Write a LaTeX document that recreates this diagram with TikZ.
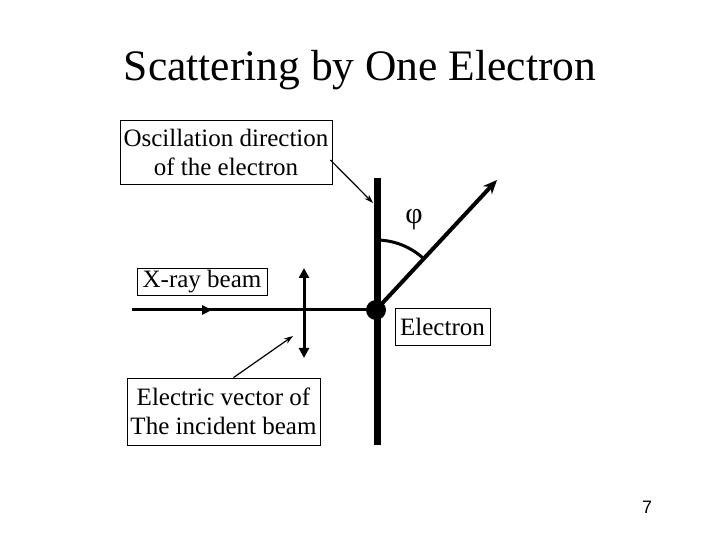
\documentclass[tikz,border=0pt]{standalone}
\usepackage{fontspec}
\setmainfont{Liberation Serif}
\setsansfont{Liberation Sans}
\usetikzlibrary{arrows.meta,positioning,calc}

\begin{document}
\begin{tikzpicture}[
  x=1pt, y=1pt,
  label box/.style={draw, line width=0.8pt, align=center, inner sep=1pt, font=\fontsize{25}{29}\selectfont},
  thin arrow/.style={-{Stealth[length=9pt,width=6pt]}, line width=1.2pt},
  beam/.style={line width=3pt},
  axis/.style={line width=7pt}
]
\useasboundingbox (0,0) rectangle (720,540);
\node[font=\fontsize{43.5}{48}\selectfont] (title) at (360,470) {Scattering by One Electron};

% the electron and its oscillation axis
\coordinate (axistop) at (377,362);
\coordinate (axisbottom) at (377,95);
\draw[axis] (axistop) -- (axisbottom);
\node[circle, fill=black, minimum size=20pt, inner sep=0pt] (electron) at (376,230) {};

% incoming beam
\coordinate (beamstart) at (132,230);
\coordinate (beammid) at (212,230);
\draw[beam] (beamstart) -- (electron.center);
\draw[beam, -{Triangle[length=10pt,width=9pt]}] ($(beammid)+(-12,0)$) -- (beammid);

% electric vector
\coordinate (evtop) at (304,272);
\coordinate (evbottom) at (304,182);
\draw[beam, {Triangle[length=10pt,width=10pt]}-{Triangle[length=10pt,width=10pt]}] (evbottom) -- (evtop);

% scattered ray and angle
\coordinate (scattered) at (497,360);
\draw[line width=4pt, -{Stealth[length=14pt,width=12pt]}] (electron.center) -- (scattered);
\draw[line width=3pt] ($(electron.center)+(90:70)$) arc[start angle=90, end angle=47, radius=70];
\node[font=\fontsize{30}{32}\selectfont] (phi) at (414,320) {φ};

% labels
\node[label box, minimum width=212pt, minimum height=64pt] (oscill) at (226,388) {Oscillation direction\\of the electron};
\node[label box, minimum width=130pt, minimum height=27pt] (xray) at (202,258.5) {X-ray beam};
\node[label box, minimum width=193pt, minimum height=67pt] (elecvec) at (223.5,128.5) {Electric vector of\\The incident beam};
\node[label box, minimum width=95pt, minimum height=37pt] (electronlabel) at (442.5,213.5) {Electron};

\coordinate (oscilltip) at (373,337);
\coordinate (elecvectip) at (293,204);
\draw[thin arrow] ($(oscill.east)+(-2,-8)$) -- (oscilltip);
\draw[thin arrow] ($(elecvec.north)+(10,0)$) -- (elecvectip);

\node[font=\sffamily\fontsize{18}{20}\selectfont] (page) at (647,33) {7};
\end{tikzpicture}
\end{document}
